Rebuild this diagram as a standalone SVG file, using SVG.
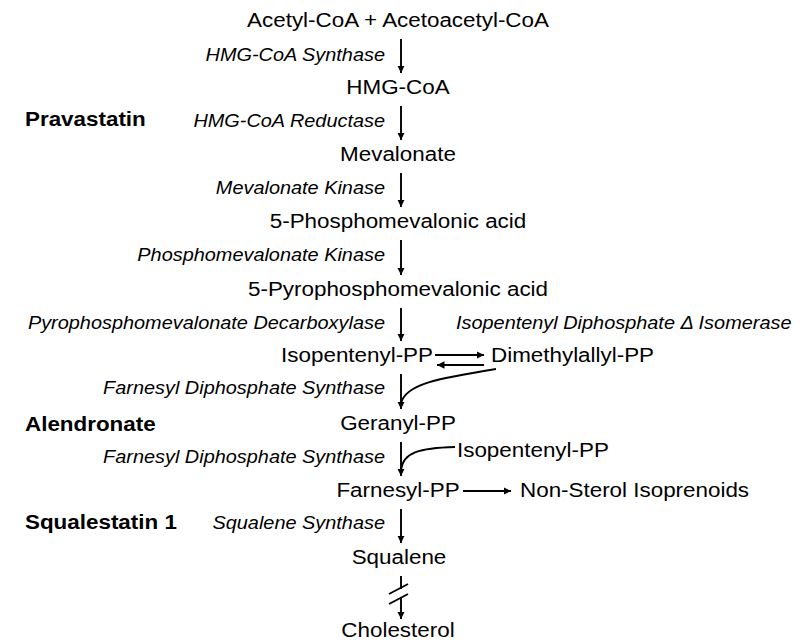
<svg xmlns="http://www.w3.org/2000/svg" width="800" height="643" viewBox="0 0 800 643">
<defs>
<style>
text{font-family:"Liberation Sans",Arial,Helvetica,sans-serif;fill:#000}
.m{font-size:21px;text-anchor:middle}
.ms{font-size:21px;text-anchor:start}
.me{font-size:21px;text-anchor:end}
.e{font-size:18.6px;font-style:italic;text-anchor:end}
.es{font-size:18.6px;font-style:italic;text-anchor:start}
.b{font-size:21px;font-weight:bold;text-anchor:start}
.c{fill:none;stroke:#000;stroke-width:1.9}
</style>
<marker id="ah" markerUnits="userSpaceOnUse" markerWidth="9" markerHeight="9" refX="7.5" refY="3.7" orient="auto">
<path d="M0,0 L7.5,3.7 L0,7.4 z" fill="#000"/>
</marker>
</defs>
<rect width="800" height="643" fill="#fff"/>
<g id="acetyl"><text class="m" transform="translate(398 27) scale(1.067 1)">Acetyl-CoA + Acetoacetyl-CoA</text></g>
<g id="hmgcoa"><text class="m" transform="translate(398 94) scale(1.067 1)">HMG-CoA</text></g>
<g id="mevalonate"><text class="m" transform="translate(398 161) scale(1.067 1)">Mevalonate</text></g>
<g id="phosphomev"><text class="m" transform="translate(398 228) scale(1.067 1)">5-Phosphomevalonic acid</text></g>
<g id="pyrophosphomev"><text class="m" transform="translate(398 296) scale(1.067 1)">5-Pyrophosphomevalonic acid</text></g>
<g id="ipp"><text class="me" transform="translate(433 362) scale(1.067 1)">Isopentenyl-PP</text></g>
<g id="dmapp"><text class="ms" transform="translate(491 362) scale(1.067 1)">Dimethylallyl-PP</text></g>
<g id="geranyl"><text class="m" transform="translate(398 430) scale(1.067 1)">Geranyl-PP</text></g>
<g id="ipp2"><text class="ms" transform="translate(457 457) scale(1.067 1)">Isopentenyl-PP</text></g>
<g id="farnesyl"><text class="m" transform="translate(398 497) scale(1.067 1)">Farnesyl-PP</text></g>
<g id="nonsterol"><text class="ms" transform="translate(520 497) scale(1.067 1)">Non-Sterol Isoprenoids</text></g>
<g id="squalene"><text class="m" transform="translate(399 564) scale(1.067 1)">Squalene</text></g>
<g id="cholesterol"><text class="m" transform="translate(398 637) scale(1.067 1)">Cholesterol</text></g>
<g id="enzymes">
<text class="e" transform="translate(385 61) scale(1.07 1)">HMG-CoA Synthase</text>
<text class="e" transform="translate(385 127) scale(1.07 1)">HMG-CoA Reductase</text>
<text class="e" transform="translate(385 194) scale(1.07 1)">Mevalonate Kinase</text>
<text class="e" transform="translate(385 261) scale(1.07 1)">Phosphomevalonate Kinase</text>
<text class="e" transform="translate(385 329) scale(1.07 1)">Pyrophosphomevalonate Decarboxylase</text>
<text class="es" transform="translate(456 329) scale(1.07 1)">Isopentenyl Diphosphate Δ Isomerase</text>
<text class="e" transform="translate(385 394) scale(1.07 1)">Farnesyl Diphosphate Synthase</text>
<text class="e" transform="translate(385 463) scale(1.07 1)">Farnesyl Diphosphate Synthase</text>
<text class="e" transform="translate(385 529) scale(1.07 1)">Squalene Synthase</text>
</g>
<g id="inhibitors">
<text class="b" transform="translate(25 126) scale(1.067 1)">Pravastatin</text>
<text class="b" transform="translate(25 431) scale(1.067 1)">Alendronate</text>
<text class="b" transform="translate(25 529) scale(1.067 1)">Squalestatin 1</text>
</g>
<g id="connectors">
<path class="c" d="M401,39 V73" marker-end="url(#ah)"/>
<path class="c" d="M401,106 V140" marker-end="url(#ah)"/>
<path class="c" d="M401,173 V207" marker-end="url(#ah)"/>
<path class="c" d="M401,240 V275" marker-end="url(#ah)"/>
<path class="c" d="M401,308 V341" marker-end="url(#ah)"/>
<path class="c" d="M435,355 H484" marker-end="url(#ah)"/>
<path class="c" d="M484,365 H437" marker-end="url(#ah)"/>
<path class="c" d="M401,374 V409" marker-end="url(#ah)"/>
<path class="c" d="M496,369 C440,378 404,384 401,404"/>
<path class="c" d="M401,442 V476" marker-end="url(#ah)"/>
<path class="c" d="M455,447 C420,448 403,452 401,470"/>
<path class="c" d="M463,491 H511" marker-end="url(#ah)"/>
<path class="c" d="M401,509 V543" marker-end="url(#ah)"/>
<path class="c" d="M401,576 V589"/>
<path class="c" d="M401,598 V619" marker-end="url(#ah)"/>
<path class="c" d="M389,594 L408,584 M389,604 L408,594"/>
</g>
</svg>
